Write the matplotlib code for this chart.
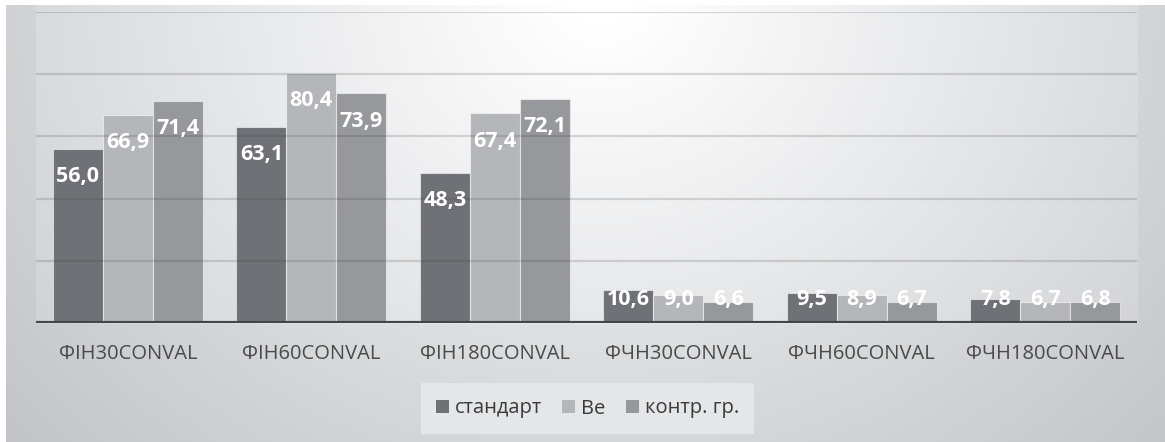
import numpy as np
import matplotlib.pyplot as plt
from matplotlib.patches import Patch

plt.rcParams['font.family'] = ['Open Sans', 'DejaVu Sans']

categories = ['ФІН30CONVAL', 'ФІН60CONVAL', 'ФІН180CONVAL',
              'ФЧН30CONVAL', 'ФЧН60CONVAL', 'ФЧН180CONVAL']
series_names = ['стандарт', 'Ве', 'контр. гр.']
standart = [56.0, 63.1, 48.3, 10.6, 9.5, 7.8]
be = [66.9, 80.4, 67.4, 9.0, 8.9, 6.7]
kontr = [71.4, 73.9, 72.1, 6.6, 6.7, 6.8]
colors = ['#6f7176', '#b4b6b9', '#97989c']

W, H = 1165, 442
# plot box in pixels: left, right, top (=100), bottom (=0)
PL, PR, PT, PB = 36, 1137, 12, 323

fig = plt.figure(figsize=(W / 100, H / 100), dpi=100)

# background: soft radial grey gradient, plot area a bit lighter
yy, xx = np.mgrid[0:H, 0:W]
d = np.hypot((xx - 600) / 700, yy / 600)
img = np.stack([250 - 50 * d, 250 - 48 * d, 250 - 45 * d], axis=-1)
inside = (xx >= PL) & (xx <= PR) & (yy >= 5) & (yy <= PB)
img[inside] += 7
img[(xx < 6) | (yy < 5)] = 255
img = np.clip(img, 0, 255) / 255
bg = fig.add_axes([0, 0, 1, 1], zorder=-1)
bg.imshow(img, extent=(0, W, H, 0), aspect='auto', interpolation='bilinear')
bg.axis('off')

ax = fig.add_axes([PL / W, (H - PB) / H, (PR - PL) / W, (PB - PT) / H])
ax.patch.set_visible(False)
ax.set_xlim(-0.5, len(categories) - 0.5)
ax.set_ylim(0, 100)
for s in ax.spines.values():
    s.set_visible(False)
ax.set_xticks([])
ax.set_yticks([])

x = np.arange(len(categories))
bw = 0.272
for i, (vals, c) in enumerate(zip([standart, be, kontr], colors)):
    xs = x + (i - 1) * bw
    ax.bar(xs, vals, width=bw, color=c, edgecolor=(1, 1, 1, 0.55),
           linewidth=0.8, zorder=2)
    for xi, v in zip(xs, vals):
        ax.text(xi, max(v - 9, 7.4), f'{v:.1f}'.replace('.', ','),
                ha='center', va='center', color='white', fontsize=15.5,
                fontweight='bold', zorder=5)

for g in [20, 40, 60, 80, 100]:
    ax.axhline(g, color='#3c3c3c', alpha=0.18, lw=1.6, zorder=3)
ax.axhline(0, color='#444548', lw=3, zorder=4)

for xi, lab in zip(x, categories):
    ax.text(xi, -10, lab, ha='center', va='center', fontsize=14.5,
            color='#4a4a4a', clip_on=False)

handles = [Patch(facecolor=c, edgecolor='none') for c in colors]
leg = fig.legend(handles, series_names, loc='center',
                 bbox_to_anchor=(587.5 / W, 1 - 408.5 / H), ncol=3,
                 frameon=True, facecolor='#e5e6e8', edgecolor='none',
                 framealpha=1, fancybox=False, fontsize=14.5,
                 handlelength=0.65, handleheight=0.65, handletextpad=0.3,
                 columnspacing=1.0, borderpad=0.75)
for t in leg.get_texts():
    t.set_color('#3a3a3a')

fig.savefig('out.png', dpi=100)
